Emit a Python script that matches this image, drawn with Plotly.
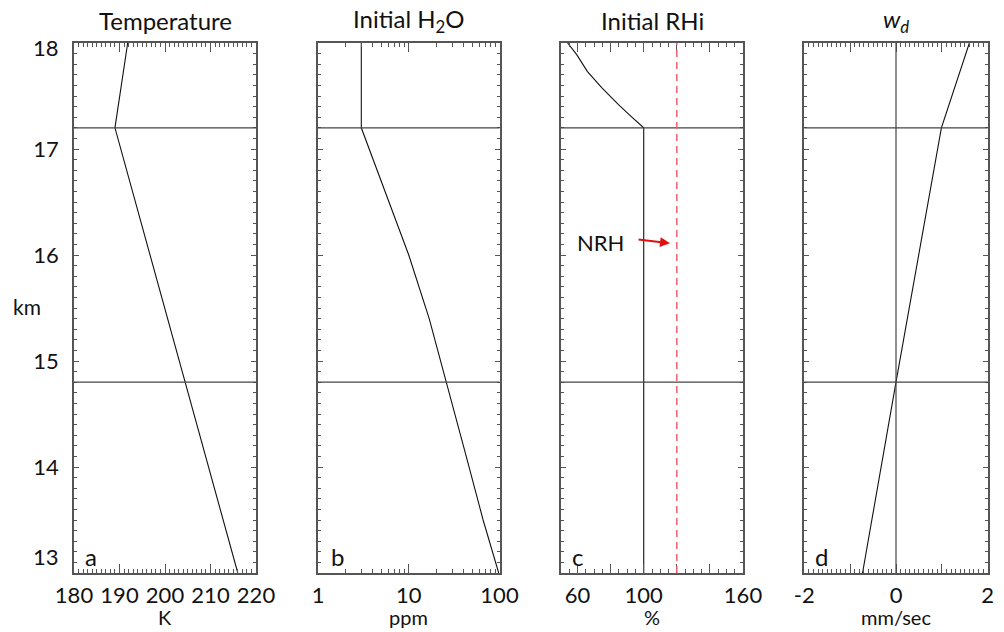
import plotly.graph_objects as go

# ---- profile data (altitude in km) ----
temp_km = [13.0, 14.8, 17.2, 18.0]
temp_K = [216.0, 204.4, 189.0, 191.8]

h2o_km = [13.0, 13.5, 14.1, 14.8, 15.4, 16.0, 16.6, 17.2, 18.0]
h2o_ppm = [98.0, 66.0, 43.0, 25.8, 16.8, 10.0, 5.5, 3.0, 3.0]

rhi_km = [13.0, 17.2, 17.32, 17.42, 17.58, 17.73, 17.89, 18.0]
rhi_pct = [100.0, 100.0, 91.5, 84.6, 74.6, 66.0, 59.5, 54.0]

wd_km = [13.0, 14.8, 17.2, 18.0]
wd_mms = [-0.73, 0.0, 0.99, 1.6]

layer_bounds_km = [14.8, 17.2]   # horizontal layer boundaries
nrh_pct = 120                    # nominal relative humidity

panel_titles = ["Temperature", "Initial H<sub>2</sub>O", "Initial RHi", "<i>w<sub>d</sub></i>"]
panel_units = ["K", "ppm", "%", "mm/sec"]
panel_letters = ["a", "b", "c", "d"]
km_ticks = [13, 14, 15, 16, 17, 18]

FONT = "Lato"
AX = "#555555"
W, H = 1004, 632
domains = [(74, 256), (318, 499.5), (561, 743), (804.3, 987.7)]
y_top, y_bot = 43, 573

fig = go.Figure()
series = [(temp_K, temp_km), (h2o_ppm, h2o_km), (rhi_pct, rhi_km), (wd_mms, wd_km)]
for i, (xs, ys) in enumerate(series):
    sfx = "" if i == 0 else str(i + 1)
    fig.add_trace(go.Scatter(x=xs, y=ys, mode="lines", xaxis="x" + sfx, yaxis="y" + sfx,
                             line=dict(color="#111111", width=1.1),
                             showlegend=False, hoverinfo="skip"))

common_x = dict(showline=True, linecolor=AX, linewidth=1.5, mirror="ticks",
                ticks="inside", ticklen=9, tickcolor=AX, tickwidth=1,
                showgrid=False, zeroline=False, ticklabelstandoff=2, automargin=False,
                tickfont=dict(family=FONT, size=22, color="#111"))
common_y = dict(showline=True, linecolor=AX, linewidth=1.5, mirror="ticks",
                ticks="inside", ticklen=5, tickcolor=AX, tickwidth=1,
                showgrid=False, zeroline=False, range=[13, 18], automargin=False,
                tickvals=km_ticks,
                minor=dict(dtick=0.1, ticks="inside", ticklen=3, tickcolor=AX),
                domain=[1 - y_bot / H, 1 - y_top / H])

x_specs = [
    dict(range=[180, 220], tickvals=[180, 190, 200, 210, 220],
         minor=dict(dtick=1, ticks="inside", ticklen=4, tickcolor=AX)),
    dict(type="log", range=[0, 2], tickvals=[1, 10, 100], ticktext=["1", "10", "100"],
         minor=dict(tickvals=[2, 3, 4, 5, 6, 7, 8, 9, 20, 30, 40, 50, 60, 70, 80, 90],
                    ticks="inside", ticklen=4, tickcolor=AX)),
    dict(range=[50, 160], tickvals=[60, 80, 100, 120, 140, 160],
         ticktext=["60", "", "100", "", "", "160"],
         minor=dict(dtick=5, tick0=50, ticks="inside", ticklen=4, tickcolor=AX)),
    dict(range=[-2, 2], tickvals=[-2, -1, 0, 1, 2], ticktext=["-2", "", "0", "", "2"],
         minor=dict(dtick=0.1, ticks="inside", ticklen=4, tickcolor=AX)),
]

layout = dict(width=W, height=H, margin=dict(l=0, r=0, t=0, b=0),
              paper_bgcolor="white", plot_bgcolor="white", showlegend=False)
for i in range(4):
    sfx = "" if i == 0 else str(i + 1)
    d0, d1 = domains[i]
    xa = dict(common_x, **x_specs[i])
    xa["domain"] = [d0 / W, d1 / W]
    xa["anchor"] = "y" + sfx
    ya = dict(common_y)
    ya["anchor"] = "x" + sfx
    if i == 0:
        ya["ticktext"] = ["", "14", "15", "16", "17", ""]
        ya["tickfont"] = dict(family=FONT, size=22, color="#111")
        ya["ticklabelstandoff"] = 9
    else:
        ya["showticklabels"] = False
    layout["xaxis" + sfx] = xa
    layout["yaxis" + sfx] = ya
fig.update_layout(**layout)

shapes = []
annotations = []
for i in range(4):
    sfx = "" if i == 0 else str(i + 1)
    xr, yr = "x" + sfx, "y" + sfx
    for yb in layer_bounds_km:
        shapes.append(dict(type="line", xref=xr + " domain", yref=yr, x0=0, x1=1, y0=yb, y1=yb,
                           line=dict(color="#444444", width=1.2)))
    d0, d1 = domains[i]
    annotations.append(dict(text=panel_titles[i], xref="paper", yref="paper",
                            x=(d0 + d1) / 2 / W, y=1 - 21 / H, xanchor="center", yanchor="middle",
                            showarrow=False, font=dict(family=FONT, size=24, color="#111")))
    annotations.append(dict(text=panel_units[i], xref="paper", yref="paper",
                            x=(d0 + d1) / 2 / W, y=1 - 617 / H, xanchor="center", yanchor="middle",
                            showarrow=False, font=dict(family=FONT, size=20, color="#111")))
    annotations.append(dict(text=panel_letters[i], xref=xr + " domain", yref=yr + " domain",
                            x=(9 if i != 1 else 11) / 182, y=(573 - 556) / 530,
                            xanchor="left", yanchor="middle",
                            showarrow=False, font=dict(family=FONT, size=24, color="#111")))

# zero line in the w_d panel
shapes.append(dict(type="line", xref="x4", yref="y4 domain", x0=0, x1=0, y0=0, y1=1,
                   line=dict(color="#444444", width=1.2)))
# NRH reference
shapes.append(dict(type="line", xref="x3", yref="y3 domain", x0=nrh_pct, x1=nrh_pct, y0=0, y1=1,
                   line=dict(color="#f0606e", width=1.5, dash="7px,5px")))

annotations.append(dict(text="NRH", xref="x3", yref="y3", x=73.6, y=16.12,
                        xanchor="center", yanchor="middle", showarrow=False,
                        font=dict(family=FONT, size=22, color="#111")))
annotations.append(dict(text="", xref="x3", yref="y3", x=115.9, y=16.11,
                        ax=-33, ay=-4, showarrow=True, arrowhead=2, arrowsize=1,
                        arrowwidth=2, arrowcolor="#e01010"))

# extreme altitude labels and axis name
annotations.append(dict(text="18", xref="paper", yref="paper", x=61 / W, y=1 - 48 / H,
                        xanchor="right", yanchor="middle", showarrow=False,
                        font=dict(family=FONT, size=22, color="#111")))
annotations.append(dict(text="13", xref="paper", yref="paper", x=61 / W, y=1 - 556 / H,
                        xanchor="right", yanchor="middle", showarrow=False,
                        font=dict(family=FONT, size=22, color="#111")))
annotations.append(dict(text="km", xref="paper", yref="paper", x=27 / W, y=1 - 307 / H,
                        xanchor="center", yanchor="middle", showarrow=False,
                        font=dict(family=FONT, size=21, color="#111")))

fig.update_layout(shapes=shapes, annotations=annotations)
fig.write_html("out.html")
